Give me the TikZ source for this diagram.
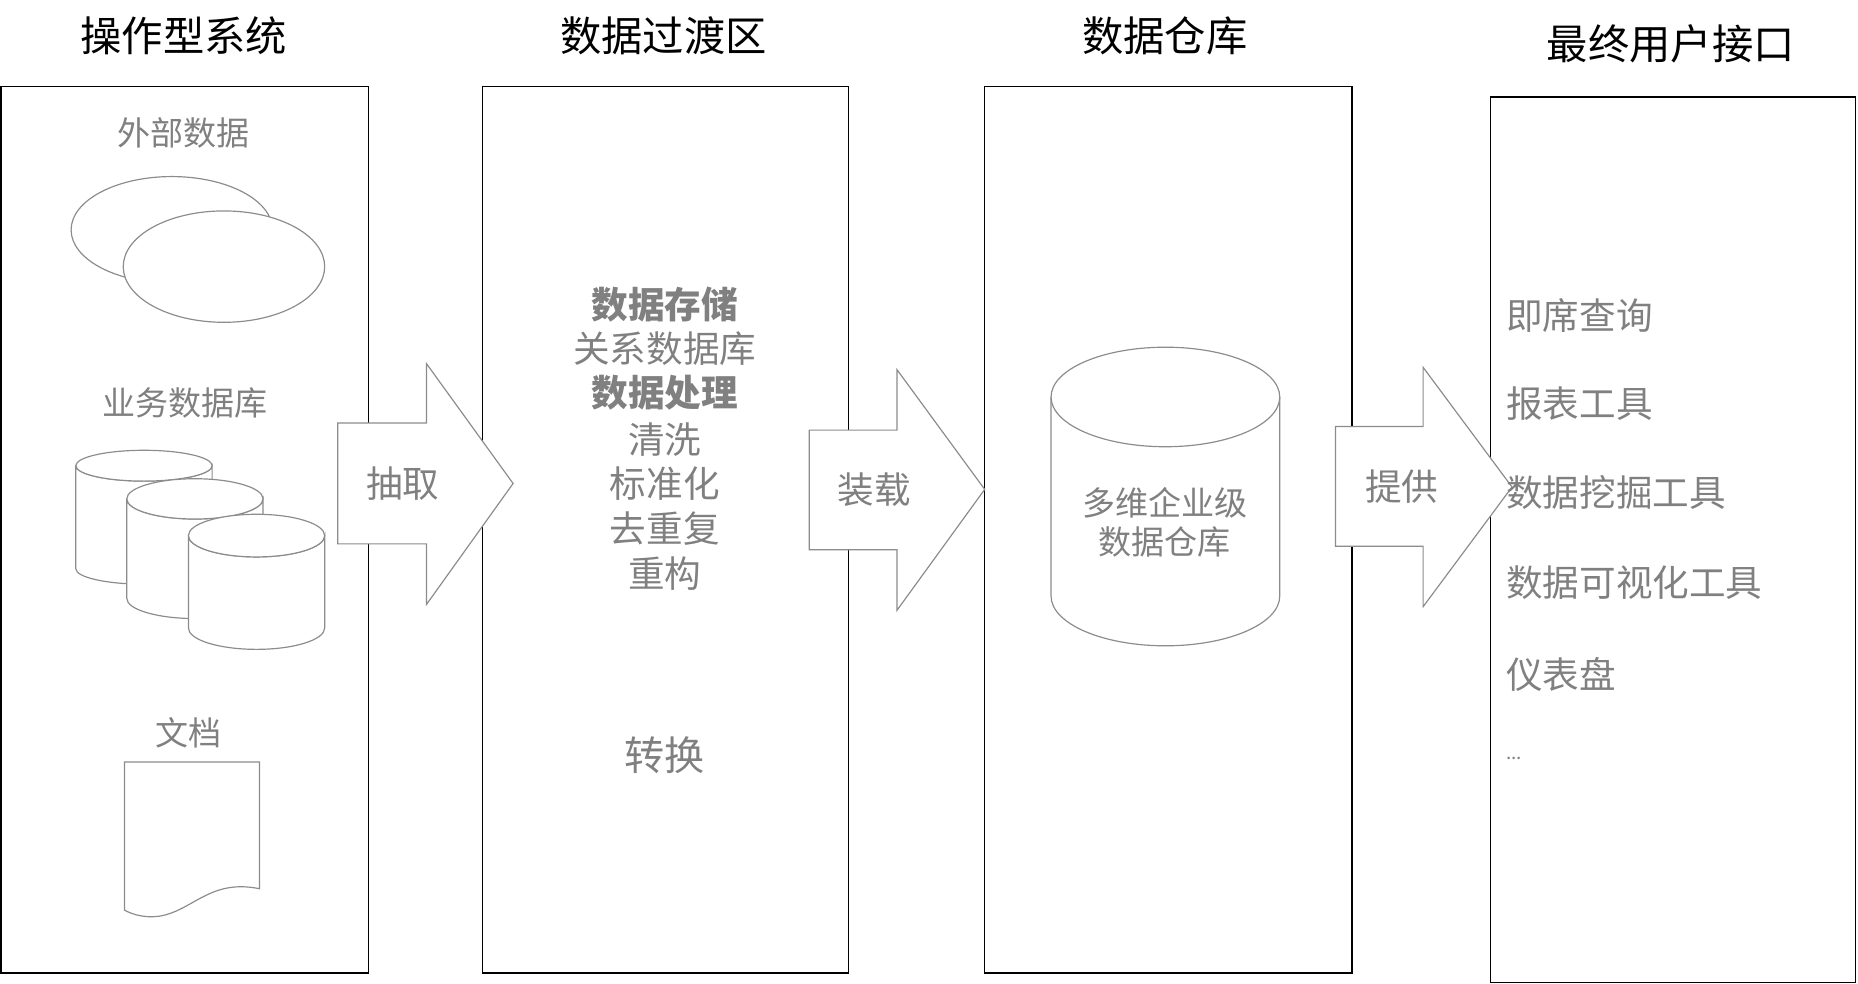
\documentclass[tikz,border=0pt]{standalone}
\usepackage{fontspec}
\setmainfont{Noto Sans CJK SC}
\begin{document}
\begin{tikzpicture}[x=1bp,y=-1bp,
  col/.style={draw=black,line width=1.2bp},
  g/.style={draw=gray!90,line width=1bp,fill=white},
  ttl/.style={font=\fontsize{35}{38}\selectfont,text=black},
  gt/.style={font=\fontsize{31}{34}\selectfont,text=gray},
  st/.style={font=\fontsize{28}{31}\selectfont,text=gray}]
\useasboundingbox (0,0) rectangle (1568,830);
\draw[col] (1,73) rectangle (311,821);
\draw[col] (407,73) rectangle (716,821);
\draw[col] (831,73) rectangle (1141,821);
\draw[col] (1258,82) rectangle (1566,829);
\node[ttl] (t1) at (155,30) {操作型系统};
\node[ttl] (t2) at (560,30) {数据过渡区};
\node[ttl] (t3) at (983,30) {数据仓库};
\node[ttl] (t4) at (1410,37) {最终用户接口};
% column 1
\node[st] (ext) at (155,112) {外部数据};
\draw[g] (145,194) ellipse [x radius=85,y radius=45];
\draw[g] (189,225) ellipse [x radius=85,y radius=47];
\node[st] (biz) at (156,340) {业务数据库};
\foreach \xa/\xb/\yt/\yb/\r in {64/179/393/480/13, 107/222/421/505/17, 159/274/452/530/18}{
  \pgfmathsetmacro\cx{(\xa+\xb)/2}\pgfmathsetmacro\rx{(\xb-\xa)/2}
  \draw[g] (\xa,\yt) -- (\xa,\yb) arc[start angle=180,end angle=0,x radius=\rx,y radius=\r] -- (\xb,\yt) arc[start angle=0,end angle=180,x radius=\rx,y radius=\r] -- cycle;
  \draw[g] (\cx,\yt) ellipse [x radius=\rx,y radius=\r];
}
\node[st] (doc) at (159,618) {文档};
\draw[g] (105,643) -- (219,643) -- (219,750) .. controls (180,742) and (165,765) .. (140,772) .. controls (125,776) and (112,772) .. (105,768) -- cycle;
% arrows
\draw[g] (285,357) -- (360,357) -- (360,307) -- (433,408) -- (360,510) -- (360,459) -- (285,459) -- cycle;
\node[gt] (a1) at (340,408) {抽取};
\draw[g] (683,363) -- (757,363) -- (757,312) -- (831,413) -- (757,515) -- (757,464) -- (683,464) -- cycle;
\node[gt] (a2) at (738,413) {装载};
\draw[g] (1127,360) -- (1201,360) -- (1201,310) -- (1276,411) -- (1201,512) -- (1201,461) -- (1127,461) -- cycle;
\node[gt] (a3) at (1183,411) {提供};
% column 2
\node[gt,font=\fontsize{31}{34}\selectfont\bfseries] (c1) at (561,257) {数据存储};
\node[gt] (c2) at (561,294) {关系数据库};
\node[gt,font=\fontsize{31}{34}\selectfont\bfseries] (c3) at (561,331) {数据处理};
\node[gt] (c4) at (561,371) {清洗};
\node[gt] (c5) at (561,408) {标准化};
\node[gt] (c6) at (561,446) {去重复};
\node[gt] (c7) at (561,484) {重构};
\node[gt,font=\fontsize{34}{37}\selectfont] (c8) at (561,637) {转换};
% column 3
\draw[g] (887,335) -- (887,503) arc[start angle=180,end angle=0,x radius=96.5,y radius=42] -- (1080,335);
\draw[g] (983.5,335) ellipse [x radius=96.5,y radius=42];
\node[st] (w1) at (983,424) {多维企业级};
\node[st] (w2) at (983,457) {数据仓库};
% column 4
\foreach \n/\y/\t in {u1/266/即席查询,u2/341/报表工具,u3/416/数据挖掘工具,u4/492/数据可视化工具,u5/569/仪表盘}{
  \node[gt,anchor=west,inner sep=0] (\n) at (1271,\y) {\t};}
\node[gt,anchor=west,inner sep=0,font=\fontsize{16}{18}\selectfont] (u6) at (1271,640) {...};
\end{tikzpicture}
\end{document}
